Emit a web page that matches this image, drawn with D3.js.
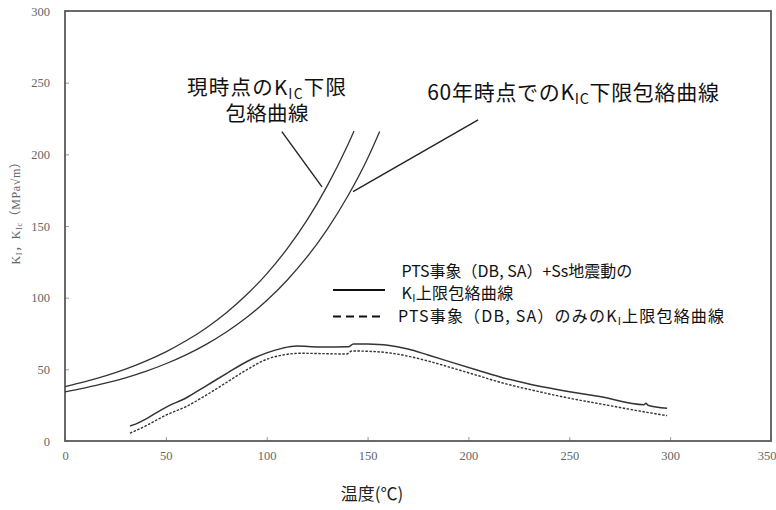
<!DOCTYPE html>
<html><head><meta charset="utf-8">
<script src="https://cdn.jsdelivr.net/npm/d3@7"></script>
<style>
body{margin:0;background:#fff;}
svg{display:block;}
</style></head>
<body><svg id="c" width="776" height="510"></svg>
<script>
// ---- data ----
const xTicks = [0,50,100,150,200,250,300,350];
const yTicks = [0,50,100,150,200,250,300];
// current K_IC lower envelope
const kicNowT = [0,10,20,30,40,50,60,70,80,90,100,110,120,130,140,143.3];
const kicNowK = [38.0,41.4,45.4,50.1,55.7,62.2,69.9,78.9,89.5,102.0,116.6,133.9,154.1,178.0,206.0,216.3];
// K_IC lower envelope at 60 years
const kic60T = [0,10,20,30,40,50,60,70,80,90,100,110,120,130,140,150,156];
const kic60K = [34.3,37.1,40.3,44.1,48.6,53.9,60.1,67.4,76.0,86.1,98.0,112.0,128.4,147.7,170.4,197.1,216.0];
// PTS (DB, SA) + Ss  K_I upper envelope
const kiSsT = [32.2,35,40,45,50,60,70,80,90,100,108,115,126,140.5,143,150,160,170,180,192.6,205,217.4,230,254,265,287,288,289,298.5];
const kiSsK = [10.5,11.8,15.2,19.5,23.5,30.0,38.5,47.0,55.3,61.5,64.8,66.2,65.6,65.8,67.7,67.6,66.8,64.2,60.0,54.5,49.2,44.0,39.8,33.5,31.0,25.3,26.3,25.0,22.8];
// PTS (DB, SA) only  K_I upper envelope
const kiPtsT = [32.2,35,40,45,50,60,70,80,90,100,108,116.6,139.7,142.2,150,160,170,180,192.6,205,217.4,230,254,265,288.5,298.5];
const kiPtsK = [5.4,7.2,10.5,14.3,18.0,24.0,32.0,40.8,49.6,57.0,60.0,61.2,60.7,62.8,62.6,61.6,59.2,55.8,50.7,45.5,40.3,36.0,28.8,26.0,20.0,17.7];
// annotation pointers (data units)
const ptrNow = [[107.5,215.8],[127.4,177.3]];
const ptr60 = [[204.8,224.0],[142.8,174.0]];

const svg = d3.select("#c");
const m = {l:65, r:5, t:11, b:69};
const W = 776, H = 510;
const x = d3.scaleLinear().domain([0,350]).range([m.l, W-m.r]);
const y = d3.scaleLinear().domain([0,300]).range([H-m.b, m.t]);

const serif = "'Liberation Serif','DejaVu Serif','Noto Sans CJK JP',serif";
const sans = "'Noto Sans CJK JP','Noto Sans',sans-serif";

// axes
const gx = svg.append("g").attr("transform",`translate(0,${y(0)})`)
  .call(d3.axisBottom(x).tickValues(xTicks).tickSizeInner(-4).tickSizeOuter(0).tickPadding(10));
const gy = svg.append("g").attr("transform",`translate(${x(0)},0)`)
  .call(d3.axisLeft(y).tickValues(yTicks).tickSizeInner(-4).tickSizeOuter(0).tickPadding(15));
[gx,gy].forEach(g=>{
  g.select(".domain").remove();
  g.selectAll(".tick line").attr("stroke","#999").attr("stroke-width",1);
  g.selectAll(".tick text").attr("fill","#666").style("font-family",serif).style("font-size","12.5px");
});
gx.selectAll(".tick text").filter(d=>d===350).attr("text-anchor","end").attr("dx",5);
// frame
svg.append("rect").attr("x",x(0)).attr("y",y(300)).attr("width",x(350)-x(0)).attr("height",y(0)-y(300))
  .attr("fill","none").attr("stroke","#5a5a5a").attr("stroke-width",1.8);

// lines
const line = d3.line().x(d=>x(d[0])).y(d=>y(d[1])).curve(d3.curveMonotoneX);
const zip = (a,b)=>a.map((v,i)=>[v,b[i]]);
const plot = (d,dash,w)=>svg.append("path").datum(d).attr("d",line).attr("fill","none")
  .attr("stroke","#333").attr("stroke-width",w).attr("stroke-dasharray",dash);
plot(zip(kicNowT,kicNowK),null,1.3);
plot(zip(kic60T,kic60K),null,1.3);
plot(zip(kiSsT,kiSsK),null,1.5);
plot(zip(kiPtsT,kiPtsK),"2.5,1.5",1.4);

const straight = d3.line().x(d=>x(d[0])).y(d=>y(d[1]));
[ptrNow,ptr60].forEach(p=>svg.append("path").datum(p).attr("d",straight).attr("stroke","#222").attr("stroke-width",1.4).attr("fill","none"));

// annotations
function subText(g, parts, size){
  parts.forEach(p=>{
    const t = g.append("tspan").text(p.t);
    if(p.sub){ t.style("font-size",(size*0.68)+"px").attr("dy",size*0.2); }
    else if(p.after){ t.attr("dy",-size*0.2); }
  });
}
function txt(px,py,anchor,size,ls,color,font){
  return svg.append("text").attr("x",px).attr("y",py).attr("text-anchor",anchor)
    .style("font-family",font||sans).style("font-size",size+"px").style("letter-spacing",(ls||0)+"px")
    .attr("fill",color||"#111");
}
const a1 = txt(x(100.2),y(241.5),"middle",20.5,1.2);
subText(a1,[{t:"現時点のK"},{t:"IC",sub:true},{t:"下限",after:true}],20.5);
txt(x(100.2),y(223.3),"middle",20.5,0.3).text("包絡曲線");
const a2 = txt(x(179.6),y(238),"start",21,0.7);
subText(a2,[{t:"60年時点でのK"},{t:"IC",sub:true},{t:"下限包絡曲線",after:true}],21);

// legend
const lg = svg.append("g");
lg.append("line").attr("x1",333).attr("x2",385).attr("y1",290).attr("y2",290).attr("stroke","#111").attr("stroke-width",2);
lg.append("line").attr("x1",333).attr("x2",383).attr("y1",316.5).attr("y2",316.5).attr("stroke","#111").attr("stroke-width",2).attr("stroke-dasharray","8,5");
txt(401.5,277,"start",16,0).text("PTS事象（DB, SA）+Ss地震動の");
const t2 = txt(401.5,298.5,"start",16,0.3);
subText(t2,[{t:"K"},{t:"I",sub:true},{t:"上限包絡曲線",after:true}],16);
const t3 = txt(398,322,"start",16,1.2);
subText(t3,[{t:"PTS事象（DB, SA）のみのK"},{t:"I",sub:true},{t:"上限包絡曲線",after:true}],16);

// axis titles
txt(372,500,"middle",17,0,"#222").text("温度(℃)");
const yl = svg.append("text").attr("transform",`translate(20,210) rotate(-90)`).attr("text-anchor","middle")
  .style("font-family",serif).style("font-size","12px").style("letter-spacing","0.6px").attr("fill","#666");
subText(yl,[{t:"K"},{t:"I",sub:true},{t:"，K",after:true},{t:"Ic",sub:true},{t:"（MPa√m）",after:true}],12);
</script></body></html>
